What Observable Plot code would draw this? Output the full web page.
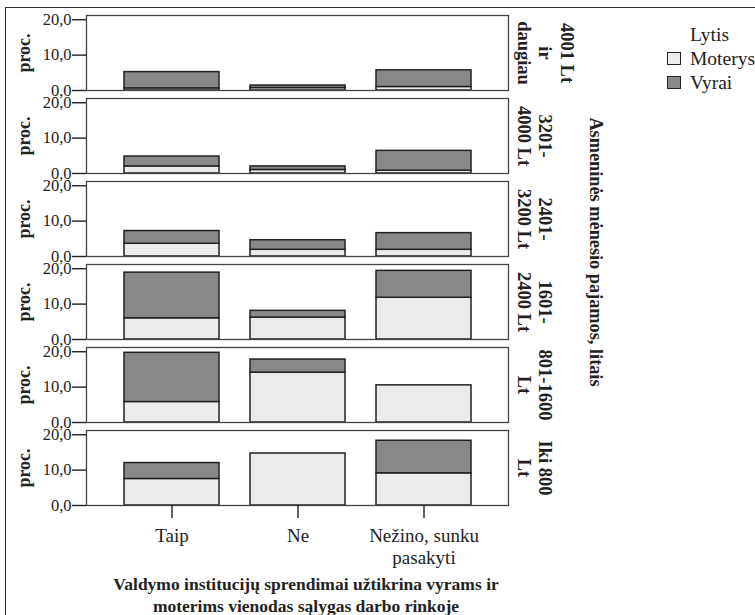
<!DOCTYPE html>
<html><head><meta charset="utf-8">
<script src="https://cdn.jsdelivr.net/npm/d3@7"></script>
<script src="https://cdn.jsdelivr.net/npm/@observablehq/plot@0.6"></script>
<style>
html,body{margin:0;padding:0;background:#fff;overflow:hidden}
#wrap{position:relative;width:755px;height:615px;overflow:hidden;font-family:"Liberation Serif","DejaVu Serif",serif;color:#222}
#wrap svg{position:absolute;left:0;top:0}
.frame{position:absolute;left:5px;top:7px;width:820px;height:700px;border:1.5px solid #333;box-sizing:border-box}
.title{position:absolute;left:56px;top:573px;width:500px;text-align:center;font-weight:bold;font-size:17.5px;line-height:22px;font-family:"Liberation Serif",serif}
.rlabel{position:absolute;left:396px;top:241px;width:400px;height:22px;line-height:22px;text-align:center;font-weight:bold;font-size:18.3px;transform:rotate(90deg);white-space:nowrap;font-family:"Liberation Serif",serif}
.leg{position:absolute;font-size:19.5px;line-height:22px;white-space:nowrap;font-family:"Liberation Serif",serif}
.box{position:absolute;width:12px;height:11px;border:1.2px solid #222}
</style></head><body><div id="wrap"></div>
<script>
// Facet rows: monthly personal income (top to bottom)
const panelLabels = ["4001 Lt\nir\ndaugiau", "3201-\n4000 Lt", "2401-\n3200 Lt", "1601-\n2400 Lt", "801-1600\nLt", "Iki 800\nLt"];
// Categories on x
const answers = ["Taip", "Ne", "Nežino, sunku\npasakyti"];
const genders = ["Moterys", "Vyrai"];
// Percentages, rows follow panelLabels, columns follow answers
const moterysValues = [
  [0.6, 0.7, 1.0],
  [2.0, 1.0, 0.8],
  [3.6, 1.9, 1.9],
  [6.0, 6.2, 11.8],
  [5.8, 14.1, 10.5],
  [7.5, 14.7, 9.1]
];
const vyraiValues = [
  [4.6, 0.7, 4.7],
  [2.8, 1.0, 5.6],
  [3.6, 2.7, 4.7],
  [12.9, 1.9, 7.6],
  [13.9, 3.7, 0],
  [4.5, 0, 9.2]
];
const yTicks = [0, 10, 20];
const genderColors = ["#ebebeb", "#888888"];
const yAxisLabel = "proc.";
const rightLabel = "Asmeninės mėnesio pajamos, litais";
const xTitle = "Valdymo institucijų sprendimai užtikrina vyrams ir<br>moterims vienodas sąlygas darbo rinkoje";
const legendTitle = "Lytis";

const serif = '"Liberation Serif","DejaVu Serif",serif';
const rows = [];
panelLabels.forEach((p, i) => answers.forEach((a, j) => {
  [moterysValues, vyraiValues].forEach((arr, g) => {
    const v = arr[i][j];
    if (v > 0) rows.push({panel: p, answer: a, gender: genders[g], value: v});
  });
}));

const chart = Plot.plot({
  width: 755, height: 615,
  marginLeft: 86, marginRight: 247, marginTop: 15, marginBottom: 110,
  style: {fontFamily: serif, fontSize: "16px", color: "#222", background: "transparent", overflow: "visible"},
  x: {type: "band", domain: answers, paddingInner: 0.25, paddingOuter: 0.29},
  y: {domain: [0, 21.2]},
  fy: {domain: panelLabels, paddingInner: 0.097, paddingOuter: 0, axis: null},
  color: {domain: genders, range: genderColors},
  marks: [
    Plot.barY(rows, Plot.stackY({x: "answer", y: "value", fill: "gender", fy: "panel", stroke: "#222", strokeWidth: 1.5})),
    Plot.frame({stroke: "#444", strokeWidth: 1.3}),
    Plot.axisY({ticks: yTicks, tickFormat: d => d.toFixed(1).replace(".", ","), tickSize: 14, tickPadding: 1, fontSize: 16.5, fontFamily: serif, label: null, strokeWidth: 1.4}),
    Plot.axisX({tickSize: 13, tickPadding: 7, fontSize: 19, fontFamily: serif, lineHeight: 1.2, label: null, strokeWidth: 1.4}),
    Plot.text(panelLabels, {fy: d => d, text: () => yAxisLabel, frameAnchor: "left", textAnchor: "middle", rotate: -90, dx: -62, fontSize: 18, fontFamily: serif, fontWeight: "bold"}),
    Plot.text(panelLabels, {fy: d => d, text: d => d, frameAnchor: "right", textAnchor: "middle", rotate: 90, lineAnchor: "bottom", dx: 9, fontSize: 18.5, fontFamily: serif, fontWeight: "bold", lineHeight: 1.17})
  ]
});

const wrap = document.getElementById("wrap");
wrap.appendChild(chart);
const add = (cls, html, css) => { const d = document.createElement("div"); d.className = cls; if (html) d.innerHTML = html; if (css) d.style.cssText = css; wrap.appendChild(d); return d; };
add("frame");
add("title", xTitle);
add("rlabel", rightLabel);
add("leg", legendTitle, "left:690px;top:24px");
genders.forEach((g, i) => {
  const cy = [58.5, 82.5][i];
  add("box", "", `left:667px;top:${cy - 6.5}px;background:${genderColors[i]}`);
  add("leg", g, `left:690px;top:${cy - 11}px`);
});
</script>
</body></html>
